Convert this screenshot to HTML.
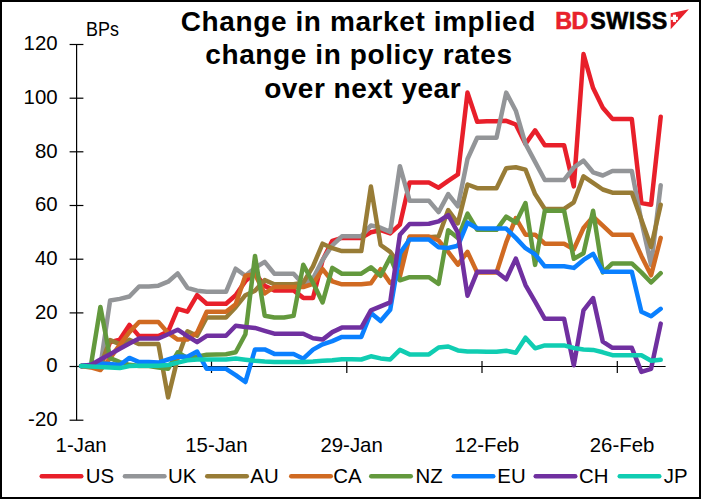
<!DOCTYPE html>
<html><head><meta charset="utf-8"><title>chart</title>
<style>
html,body{margin:0;padding:0;background:#fff;}
body{width:701px;height:499px;overflow:hidden;position:relative;font-family:"Liberation Sans",sans-serif;color:#000;}
#frame{position:absolute;left:0;top:0;width:697px;height:495px;border:2px solid #000;box-sizing:content-box;}
svg{position:absolute;left:0;top:0;}
.yl{position:absolute;left:0;width:57.6px;text-align:right;font-size:20.4px;line-height:23px;height:23px;}
.xl{position:absolute;top:433.5px;width:80px;text-align:center;font-size:20.4px;line-height:23px;white-space:nowrap;}
.lg{position:absolute;top:465px;font-size:20.4px;line-height:23px;white-space:nowrap;}
#title div{position:absolute;font-weight:bold;font-size:28px;line-height:33.1px;white-space:nowrap;letter-spacing:0.6px;}
#bps{position:absolute;left:85.5px;top:18.8px;font-size:19.3px;line-height:22px;transform:scaleX(0.93);transform-origin:left center;}
#logo{position:absolute;left:555.3px;top:7.5px;font-weight:bold;font-size:23.3px;line-height:27px;white-space:nowrap;letter-spacing:-0.6px;-webkit-text-stroke:0.6px currentColor;}
#logo .sw{margin-left:2.6px;letter-spacing:0.45px;}
#logo .bd{color:#E8212B;}
</style></head><body>
<div id="frame"></div>
<svg width="701" height="499" viewBox="0 0 701 499">
<g stroke="#000" stroke-width="1.2" fill="none"><line x1="76.6" y1="44.5" x2="76.6" y2="420.2"/><line x1="76.6" y1="366.5" x2="665.6" y2="366.5"/><line x1="69.6" y1="44.5" x2="83.4" y2="44.5"/><line x1="69.6" y1="98.2" x2="83.4" y2="98.2"/><line x1="69.6" y1="151.8" x2="83.4" y2="151.8"/><line x1="69.6" y1="205.5" x2="83.4" y2="205.5"/><line x1="69.6" y1="259.2" x2="83.4" y2="259.2"/><line x1="69.6" y1="312.9" x2="83.4" y2="312.9"/><line x1="69.6" y1="366.5" x2="83.4" y2="366.5"/><line x1="69.6" y1="420.2" x2="83.4" y2="420.2"/><line x1="211.5" y1="361" x2="211.5" y2="373"/><line x1="346.8" y1="361" x2="346.8" y2="373"/><line x1="482.0" y1="361" x2="482.0" y2="373"/><line x1="617.3" y1="361" x2="617.3" y2="373"/></g>
<g fill="none" stroke-width="4.5" stroke-linejoin="round" stroke-linecap="round">
<polyline points="81.1,366.1 90.8,366.1 100.4,366.1 110.1,342.2 119.8,339.6 129.4,324.9 139.1,336.1 148.8,336.1 158.4,336.1 168.1,331.6 177.7,308.8 187.4,311.7 197.1,295.2 206.7,303.7 216.4,303.7 226.0,303.7 235.7,295.2 245.4,281.1 255.0,273.2 264.7,285.9 274.3,290.4 284.0,290.4 293.6,290.4 303.3,297.9 313.0,297.9 322.6,260.2 332.3,240.8 341.9,237.9 351.6,238.1 361.3,237.9 370.9,232.3 380.6,230.2 390.2,233.4 399.9,224.6 409.6,182.6 419.2,182.6 428.9,182.6 438.6,187.7 448.2,180.8 457.9,174.4 467.5,92.6 477.2,121.8 486.9,121.3 496.5,121.3 506.2,120.8 515.8,124.5 525.5,143.9 535.1,130.3 544.8,145.2 554.5,145.2 564.1,145.2 573.8,186.4 583.5,54.1 593.1,88.1 602.8,107.8 612.4,118.9 622.1,118.9 631.8,118.9 641.4,203.1 651.1,204.7 660.7,116.8" stroke="#E81F2A"/>
<polyline points="81.1,366.1 90.8,366.1 100.4,366.1 110.1,300.5 119.8,298.9 129.4,296.5 139.1,286.5 148.8,286.5 158.4,285.7 168.1,281.7 177.7,273.4 187.4,287.8 197.1,290.7 206.7,291.8 216.4,291.8 226.0,291.8 235.7,268.7 245.4,275.8 255.0,267.9 264.7,261.8 274.3,273.7 284.0,273.7 293.6,273.7 303.3,284.3 313.0,278.5 322.6,259.9 332.3,245.3 341.9,236.3 351.6,236.3 361.3,236.3 370.9,225.4 380.6,227.8 390.2,231.8 399.9,166.2 409.6,200.7 419.2,200.7 428.9,200.7 438.6,212.1 448.2,194.1 457.9,206.3 467.5,159.0 477.2,137.8 486.9,137.8 496.5,137.8 506.2,92.6 515.8,110.7 525.5,143.9 535.1,161.9 544.8,180.0 554.5,180.0 564.1,180.0 573.8,167.5 583.5,160.6 593.1,172.3 602.8,175.5 612.4,171.0 622.1,171.0 631.8,171.0 641.4,221.1 651.1,264.9 660.7,185.3" stroke="#939598"/>
<polyline points="81.1,366.1 90.8,366.1 100.4,366.1 110.1,340.1 119.8,344.1 129.4,339.8 139.1,344.1 148.8,344.1 158.4,344.1 168.1,397.4 177.7,358.1 187.4,331.3 197.1,335.8 206.7,317.5 216.4,317.5 226.0,317.5 235.7,307.2 245.4,295.2 255.0,290.7 264.7,280.1 274.3,284.3 284.0,284.3 293.6,284.3 303.3,282.7 313.0,266.3 322.6,243.7 332.3,248.2 341.9,251.1 351.6,251.1 361.3,251.1 370.9,186.6 380.6,245.0 390.2,251.9 399.9,265.2 409.6,237.3 419.2,237.3 428.9,237.3 438.6,236.5 448.2,210.0 457.9,223.3 467.5,184.5 477.2,188.2 486.9,188.2 496.5,188.2 506.2,168.3 515.8,167.2 525.5,169.6 535.1,194.1 544.8,208.9 554.5,208.9 564.1,208.9 573.8,202.3 583.5,176.3 593.1,182.9 602.8,189.5 612.4,192.7 622.1,192.7 631.8,192.7 641.4,219.8 651.1,246.9 660.7,204.7" stroke="#987C36"/>
<polyline points="81.1,366.1 90.8,367.4 100.4,370.1 110.1,358.1 119.8,344.9 129.4,332.1 139.1,322.0 148.8,322.0 158.4,322.0 168.1,332.9 177.7,339.6 187.4,339.6 197.1,332.6 206.7,311.7 216.4,311.7 226.0,311.7 235.7,304.2 245.4,275.8 255.0,274.2 264.7,293.4 274.3,287.0 284.0,287.0 293.6,287.0 303.3,287.0 313.0,283.8 322.6,269.2 332.3,281.4 341.9,284.3 351.6,284.3 361.3,284.3 370.9,283.3 380.6,269.2 390.2,283.0 399.9,276.4 409.6,236.5 419.2,236.5 428.9,236.5 438.6,240.5 448.2,251.9 457.9,264.7 467.5,251.9 477.2,272.6 486.9,272.6 496.5,272.6 506.2,242.4 515.8,218.2 525.5,234.7 535.1,234.7 544.8,243.7 554.5,243.7 564.1,243.7 573.8,249.3 583.5,228.0 593.1,216.6 602.8,225.7 612.4,234.7 622.1,234.7 631.8,234.7 641.4,255.9 651.1,275.3 660.7,237.9" stroke="#D06A22"/>
<polyline points="81.1,366.1 90.8,366.1 100.4,306.9 110.1,358.1 119.8,362.1 129.4,364.8 139.1,366.1 148.8,366.1 158.4,367.4 168.1,368.8 177.7,352.3 187.4,358.1 197.1,356.8 206.7,354.7 216.4,354.4 226.0,354.2 235.7,352.3 245.4,334.2 255.0,255.9 264.7,315.7 274.3,317.5 284.0,317.5 293.6,315.9 303.3,264.7 313.0,282.7 322.6,302.4 332.3,267.9 341.9,273.7 351.6,273.7 361.3,273.7 370.9,267.3 380.6,275.8 390.2,257.2 399.9,280.3 409.6,277.2 419.2,277.2 428.9,277.2 438.6,283.8 448.2,230.2 457.9,238.1 467.5,213.7 477.2,229.8 486.9,229.8 496.5,229.8 506.2,216.6 515.8,222.7 525.5,203.1 535.1,264.9 544.8,210.8 554.5,210.8 564.1,210.8 573.8,258.8 583.5,253.3 593.1,210.8 602.8,272.4 612.4,263.4 622.1,263.4 631.8,263.4 641.4,272.4 651.1,282.5 660.7,273.2" stroke="#63993D"/>
<polyline points="81.1,366.1 90.8,364.8 100.4,363.4 110.1,364.1 119.8,365.0 129.4,357.9 139.1,362.1 148.8,362.1 158.4,362.6 168.1,359.5 177.7,356.5 187.4,356.8 197.1,351.5 206.7,368.8 216.4,368.8 226.0,368.8 235.7,375.1 245.4,382.0 255.0,349.4 264.7,349.4 274.3,353.9 284.0,353.9 293.6,353.9 303.3,358.7 313.0,349.6 322.6,344.3 332.3,341.1 341.9,336.9 351.6,336.9 361.3,336.9 370.9,313.0 380.6,321.0 390.2,309.8 399.9,253.3 409.6,239.5 419.2,239.5 428.9,239.5 438.6,247.2 448.2,248.0 457.9,245.8 467.5,222.7 477.2,228.3 486.9,228.6 496.5,228.6 506.2,228.6 515.8,237.9 525.5,248.2 535.1,254.3 544.8,266.3 554.5,266.3 564.1,266.3 573.8,267.9 583.5,259.9 593.1,253.8 602.8,271.8 612.4,271.8 622.1,271.8 631.8,271.8 641.4,311.7 651.1,316.2 660.7,308.8" stroke="#0A80FF"/>
<polyline points="81.1,366.1 90.8,365.0 100.4,359.5 110.1,354.2 119.8,348.8 129.4,343.5 139.1,338.5 148.8,338.5 158.4,338.5 168.1,334.2 177.7,329.7 187.4,336.1 197.1,342.2 206.7,335.8 216.4,335.8 226.0,335.8 235.7,325.7 245.4,327.1 255.0,327.9 264.7,330.8 274.3,333.7 284.0,333.7 293.6,333.7 303.3,333.7 313.0,338.2 322.6,339.6 332.3,332.1 341.9,327.6 351.6,327.6 361.3,327.6 370.9,310.3 380.6,306.4 390.2,302.4 399.9,234.7 409.6,224.1 419.2,224.1 428.9,223.8 438.6,221.4 448.2,215.0 457.9,232.6 467.5,295.7 477.2,271.8 486.9,271.8 496.5,271.8 506.2,279.3 515.8,258.6 525.5,285.1 535.1,301.6 544.8,318.8 554.5,318.8 564.1,318.8 573.8,365.3 583.5,310.3 593.1,298.1 602.8,341.7 612.4,347.8 622.1,347.8 631.8,347.8 641.4,371.9 651.1,368.8 660.7,323.6" stroke="#7030A0"/>
<polyline points="81.1,366.1 90.8,366.6 100.4,366.9 110.1,367.4 119.8,368.1 129.4,366.1 139.1,365.8 148.8,365.8 158.4,365.8 168.1,365.0 177.7,362.6 187.4,360.3 197.1,359.5 206.7,359.5 216.4,359.5 226.0,359.5 235.7,358.4 245.4,359.7 255.0,360.8 264.7,361.6 274.3,362.1 284.0,362.1 293.6,362.1 303.3,362.1 313.0,361.6 322.6,360.8 332.3,360.3 341.9,359.2 351.6,359.2 361.3,359.5 370.9,356.3 380.6,358.4 390.2,359.5 399.9,349.9 409.6,354.4 419.2,354.4 428.9,354.4 438.6,347.5 448.2,346.5 457.9,350.4 467.5,351.5 477.2,351.5 486.9,351.8 496.5,351.8 506.2,350.7 515.8,352.8 525.5,337.7 535.1,348.3 544.8,345.4 554.5,345.4 564.1,345.4 573.8,348.0 583.5,349.4 593.1,349.9 602.8,352.3 612.4,355.2 622.1,355.2 631.8,355.2 641.4,355.2 651.1,360.8 660.7,359.7" stroke="#10CDB2"/>
</g>
<g fill="none" stroke-width="4.4" stroke-linecap="round"><line x1="41.7" y1="476.3" x2="81.3" y2="476.3" stroke="#E81F2A"/><line x1="124.9" y1="476.3" x2="164.5" y2="476.3" stroke="#939598"/><line x1="207.2" y1="476.3" x2="246.8" y2="476.3" stroke="#987C36"/><line x1="291.2" y1="476.3" x2="330.8" y2="476.3" stroke="#D06A22"/><line x1="371.2" y1="476.3" x2="410.8" y2="476.3" stroke="#63993D"/><line x1="453.7" y1="476.3" x2="493.3" y2="476.3" stroke="#0A80FF"/><line x1="535.7" y1="476.3" x2="575.3" y2="476.3" stroke="#7030A0"/><line x1="619.7" y1="476.3" x2="659.3" y2="476.3" stroke="#10CDB2"/></g>
<g><polygon points="670.7,13.2 688.9,9.2 670.7,29.2" fill="#E8212B"/><rect x="670.7" y="16.8" width="7.2" height="3.1" fill="#fff"/><rect x="672.9" y="14.7" width="3.1" height="7.4" fill="#fff"/></g>
</svg>
<div id="title"><div style="left:180.8px;top:5.1px">Change in market implied</div><div style="left:205.3px;top:38.3px">change in policy rates</div><div style="left:264.2px;top:71.7px;letter-spacing:0.5px">over next year</div></div>
<div id="bps">BPs</div>
<div id="logo"><span class="bd">BD</span><span class="sw">SWISS</span></div>
<div class="yl" style="top:32.2px">120</div><div class="yl" style="top:85.9px">100</div><div class="yl" style="top:139.5px">80</div><div class="yl" style="top:193.2px">60</div><div class="yl" style="top:246.9px">40</div><div class="yl" style="top:300.6px">20</div><div class="yl" style="top:354.2px">0</div><div class="yl" style="top:407.9px">-20</div><div class="xl" style="left:41.1px">1-Jan</div><div class="xl" style="left:176.4px">15-Jan</div><div class="xl" style="left:311.6px">29-Jan</div><div class="xl" style="left:446.9px">12-Feb</div><div class="xl" style="left:582.1px">26-Feb</div><div class="lg" style="left:85.8px">US</div><div class="lg" style="left:168.0px">UK</div><div class="lg" style="left:250.3px">AU</div><div class="lg" style="left:333.3px">CA</div><div class="lg" style="left:415.5px">NZ</div><div class="lg" style="left:497.3px">EU</div><div class="lg" style="left:579.0px">CH</div><div class="lg" style="left:663.8px">JP</div>
</body></html>
